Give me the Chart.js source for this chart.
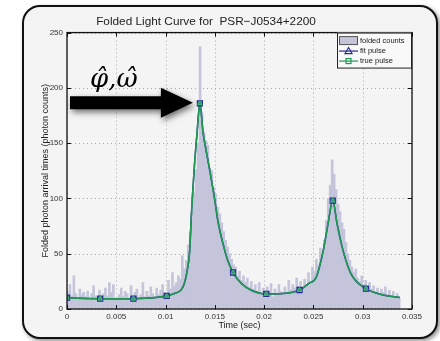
<!DOCTYPE html>
<html lang="en">
<head>
  <title>Folded Light Curve</title>
  <meta charset="utf-8">
  <script src="https://cdn.jsdelivr.net/npm/chart.js@4.4.1/dist/chart.umd.min.js"></script>
  <style>
    body { margin: 0; background: #fff; }
    #panel {
      position: absolute; left: 22px; top: 5px; width: 416px; height: 334px;
      box-sizing: border-box; border: 2px solid #111; border-radius: 18px;
      background: #f4f4f4; box-shadow: 2px 2px 4px rgba(0,0,0,0.45);
    }
    #wrap { position: absolute; left: 0; top: 0; }
  </style>
</head>
<body>
  <div id="panel"></div>
  <div id="wrap"><canvas id="myChart" width="440" height="341"></canvas></div>

  <script>
    // histogram of folded arrival times, bins of 0.2 ms starting at t = 0
    var binWidth = 0.0002;
    var counts = [
      16, 22, 12, 30, 14,   10, 18, 13, 15, 11,   16, 9, 14, 21, 12,   11, 17, 10, 14, 19,
      12, 24, 15, 22, 9,    8, 13, 19, 11, 16,    14, 10, 21, 12, 15,   18, 9, 13, 24, 11,
      16, 12, 20, 14, 10,   19, 13, 17, 22, 15,   14, 26, 18, 33, 21,   24, 30, 27, 48, 36,
      44, 58, 70, 88, 105,  126, 150, 237, 178, 160, 152, 148, 128, 125, 110,
      104, 92, 86, 78, 70,  62, 56, 50, 45, 40,   38, 30, 34, 26, 30,   24, 28, 20, 25, 18,
      22, 16, 24, 14, 19,   12, 20, 15, 23, 11,   18, 14, 22, 16, 13,   20, 15, 26, 17, 22,
      19, 28, 21, 25, 18,   27, 22, 33, 25, 38,   34, 45, 40, 55, 48,   62, 80, 100, 112, 135,
      122, 108, 95, 88, 78, 72, 60, 50, 44, 38,   33, 36, 28, 25, 30,   22, 26, 19, 24, 18,
      21, 16, 19, 14, 18,   15, 20, 13, 17, 12,   16, 11, 14, 10
    ];

    // pulse profile
    var pulseT = [0, 0.001, 0.002, 0.00337, 0.005, 0.00674, 0.008, 0.009, 0.01011, 0.0109,
                  0.0116, 0.0119, 0.0122, 0.01245, 0.0126, 0.0129, 0.0132, 0.01348, 0.0138, 0.0141,
                  0.01455, 0.0150, 0.0153, 0.0158, 0.0163, 0.01685, 0.0177, 0.0187, 0.02022, 0.0219,
                  0.02359, 0.0245, 0.0253, 0.0260, 0.02648, 0.02696, 0.0274, 0.0280, 0.0288, 0.03033,
                  0.0321, 0.03375];
    var truePulse = [10.2, 9.8, 9.5, 9.3, 9.2, 9.3, 9.8, 10.5, 11.8, 14,
                     17.5, 23, 35, 53, 82, 126, 160, 186, 160, 144,
                     122, 98, 80, 60, 44, 33, 23, 17, 13.6, 14,
                     17.2, 23, 29, 53, 77, 98, 77, 53, 32, 18.4,
                     12.7, 10.5];
    var fitPulse = truePulse.slice();

    // marker positions (10 samples per period)
    var markT = [0, 0.00337, 0.00674, 0.01011, 0.01348, 0.01685, 0.02022, 0.02359, 0.02696, 0.03033];
    var markV = [10.2, 9.3, 9.3, 11.8, 186, 33, 13.6, 17.2, 98, 18.4];

    var xTicks = [0, 0.005, 0.01, 0.015, 0.02, 0.025, 0.03, 0.035];
    var yTicks = [0, 50, 100, 150, 200, 250];

    var HIST = '#c4c4db', BLUE = '#2a2a96', GREEN = '#1f9a55';
    var SANS = '"Liberation Sans", Arial, sans-serif';
    Chart.defaults.font.family = SANS;

    function pts(xs, ys) { return xs.map(function (t, i) { return {x: t, y: ys[i]}; }); }

    // dotted grid, drawn under the data
    var dotGrid = {
      id: 'dotGrid',
      beforeDatasetsDraw: function (chart) {
        var ctx = chart.ctx, a = chart.chartArea, sx = chart.scales.x, sy = chart.scales.y;
        ctx.save();
        ctx.strokeStyle = '#a8a8a8';
        ctx.lineWidth = 1;
        ctx.setLineDash([1, 3]);
        ctx.beginPath();
        xTicks.forEach(function (v) {
          var p = Math.round(sx.getPixelForValue(v)) + 0.5;
          ctx.moveTo(p, a.top); ctx.lineTo(p, a.bottom);
        });
        yTicks.forEach(function (v) {
          var p = Math.round(sy.getPixelForValue(v)) + 0.5;
          ctx.moveTo(a.left, p); ctx.lineTo(a.right, p);
        });
        ctx.stroke();
        ctx.restore();
      }
    };

    // axis box + inward ticks like matlab
    var frame = {
      id: 'frame',
      afterDatasetsDraw: function (chart) {
        var ctx = chart.ctx, a = chart.chartArea, sx = chart.scales.x, sy = chart.scales.y;
        ctx.save();
        ctx.strokeStyle = '#111';
        ctx.lineWidth = 1;
        ctx.beginPath();
        xTicks.forEach(function (v) {
          var p = Math.round(sx.getPixelForValue(v)) + 0.5;
          ctx.moveTo(p, a.bottom); ctx.lineTo(p, a.bottom - 4);
          ctx.moveTo(p, a.top); ctx.lineTo(p, a.top + 4);
        });
        yTicks.forEach(function (v) {
          var p = Math.round(sy.getPixelForValue(v)) + 0.5;
          ctx.moveTo(a.left, p); ctx.lineTo(a.left + 4, p);
          ctx.moveTo(a.right, p); ctx.lineTo(a.right - 4, p);
        });
        ctx.stroke();
        ctx.lineWidth = 1.3;
        ctx.strokeRect(a.left, a.top, a.right - a.left, a.bottom - a.top);
        ctx.restore();
      }
    };

    // arrow pointing at the main peak + phi/omega hat label
    var arrow = {
      id: 'arrow',
      afterDatasetsDraw: function (chart) {
        var ctx = chart.ctx, a = chart.chartArea, sx = chart.scales.x, sy = chart.scales.y;
        var px = sx.getPixelForValue(markT[4]) - 7;
        var py = sy.getPixelForValue(markV[4]) - 0.5;
        var x0 = a.left + 3, hb = px - 32;
        ctx.save();
        ctx.shadowColor = 'rgba(0,0,0,0.55)';
        ctx.shadowBlur = 6; ctx.shadowOffsetX = 2; ctx.shadowOffsetY = 3;
        ctx.fillStyle = '#000';
        ctx.beginPath();
        ctx.moveTo(x0, py - 6.5);
        ctx.lineTo(hb, py - 6.5);
        ctx.lineTo(hb, py - 15);
        ctx.lineTo(px, py);
        ctx.lineTo(hb, py + 15);
        ctx.lineTo(hb, py + 6.5);
        ctx.lineTo(x0, py + 6.5);
        ctx.closePath();
        ctx.fill();
        ctx.restore();
        ctx.save();
        ctx.fillStyle = '#000';
        ctx.font = 'italic 26px "DejaVu Serif", "Liberation Serif", serif';
        ctx.textBaseline = 'alphabetic';
        ctx.fillText('\u03C6\u0302,\u03C9\u0302', x0 + 20, py - 16);
        ctx.restore();
      }
    };

    // legend box in the top right corner of the axes
    var legendBox = {
      id: 'legendBox',
      afterDraw: function (chart) {
        var ctx = chart.ctx, a = chart.chartArea;
        var bw = 74, bh = 35, bx = a.right - bw - 1, by = a.top;
        ctx.save();
        ctx.fillStyle = '#f9f9f9';
        ctx.fillRect(bx, by, bw, bh);
        ctx.strokeStyle = '#222'; ctx.lineWidth = 1;
        ctx.strokeRect(bx + 0.5, by + 0.5, bw, bh);
        var rows = [by + 8, by + 18.5, by + 28.5];
        // folded counts patch
        ctx.fillStyle = HIST;
        ctx.fillRect(bx + 2.5, rows[0] - 4, 18, 8);
        ctx.strokeStyle = '#555';
        ctx.strokeRect(bx + 2.5, rows[0] - 4, 18, 8);
        // fit pulse
        ctx.strokeStyle = BLUE; ctx.lineWidth = 1.2;
        ctx.beginPath(); ctx.moveTo(bx + 2, rows[1]); ctx.lineTo(bx + 21, rows[1]); ctx.stroke();
        ctx.beginPath();
        ctx.moveTo(bx + 11.5, rows[1] - 3.5); ctx.lineTo(bx + 15, rows[1] + 2.5); ctx.lineTo(bx + 8, rows[1] + 2.5);
        ctx.closePath(); ctx.stroke();
        // true pulse
        ctx.strokeStyle = GREEN;
        ctx.beginPath(); ctx.moveTo(bx + 2, rows[2]); ctx.lineTo(bx + 21, rows[2]); ctx.stroke();
        ctx.strokeRect(bx + 9, rows[2] - 2.5, 5, 5);
        ctx.fillStyle = '#222';
        ctx.font = '7.5px ' + SANS;
        ctx.textBaseline = 'middle';
        ctx.fillText('folded counts', bx + 23, rows[0]);
        ctx.fillText('fit pulse', bx + 23, rows[1]);
        ctx.fillText('true pulse', bx + 23, rows[2]);
        ctx.restore();
      }
    };

    var ctx = document.getElementById('myChart').getContext('2d');
    var chart = new Chart(ctx, {
      type: 'bar',
      data: {
        datasets: [{
          type: 'bar',
          label: 'folded counts',
          data: counts.map(function (c, i) { return {x: (i + 0.5) * binWidth, y: c}; }),
          backgroundColor: HIST,
          borderWidth: 0,
          barPercentage: 1,
          categoryPercentage: 1,
          grouped: false,
          order: 4
        }, {
          type: 'line',
          label: 'fit pulse',
          data: pts(pulseT, fitPulse),
          borderColor: BLUE,
          borderWidth: 1.5,
          pointRadius: 0,
          cubicInterpolationMode: 'monotone',
          fill: false,
          order: 3
        }, {
          type: 'line',
          label: 'true pulse',
          data: pts(pulseT, truePulse),
          borderColor: GREEN,
          borderWidth: 1.6,
          pointRadius: 0,
          cubicInterpolationMode: 'monotone',
          fill: false,
          order: 2
        }, {
          type: 'line',
          label: 'fit markers',
          data: pts(markT, markV),
          showLine: false,
          pointStyle: 'rect',
          pointRadius: 3.6,
          pointBorderWidth: 1.2,
          pointBorderColor: BLUE,
          pointBackgroundColor: '#3f8a78',
          order: 1
        }, {
          type: 'line',
          label: 'true markers',
          data: pts(markT, markV),
          showLine: false,
          pointStyle: 'triangle',
          pointRadius: 2.6,
          pointBorderWidth: 1,
          pointBorderColor: '#39c070',
          pointBackgroundColor: 'rgba(0,0,0,0)',
          order: 0
        }]
      },
      options: {
        responsive: false,
        animation: false,
        events: [],
        layout: { padding: { top: 0, right: 28, bottom: 0, left: 0 } },
        plugins: {
          legend: { display: false },
          tooltip: { enabled: false },
          title: {
            display: true,
            text: 'Folded Light Curve for  PSR\u2212J0534+2200',
            color: '#222',
            font: { size: 11.8, weight: 'normal', lineHeight: 1.15 },
            padding: { top: 15, bottom: 4 }
          }
        },
        scales: {
          x: {
            type: 'linear',
            min: 0, max: 0.035,
            offset: false,
            afterBuildTicks: function (s) { s.ticks = xTicks.map(function (v) { return {value: v}; }); },
            ticks: {
              color: '#333', font: { size: 8 }, padding: 3, maxRotation: 0, autoSkip: false,
              callback: function (v) { return v === 0 ? '0' : String(+v.toFixed(3)); }
            },
            grid: { display: false, drawTicks: false },
            border: { display: false },
            title: { display: true, text: 'Time (sec)', color: '#222', font: { size: 9 }, padding: { top: 0, bottom: 10 } },
            afterFit: function (s) { s.height = 32; }
          },
          y: {
            min: 0, max: 250,
            afterBuildTicks: function (s) { s.ticks = yTicks.map(function (v) { return {value: v}; }); },
            ticks: { color: '#333', font: { size: 8 }, padding: 4 },
            grid: { display: false, drawTicks: false },
            border: { display: false },
            title: { display: true, text: 'Folded photon arrival times (photon counts)', color: '#222', font: { size: 9 }, padding: { top: 40, bottom: 0 } },
            afterFit: function (s) { s.width = 67; }
          }
        }
      },
      plugins: [dotGrid, frame, arrow, legendBox]
    });
  </script>
</body>
</html>
